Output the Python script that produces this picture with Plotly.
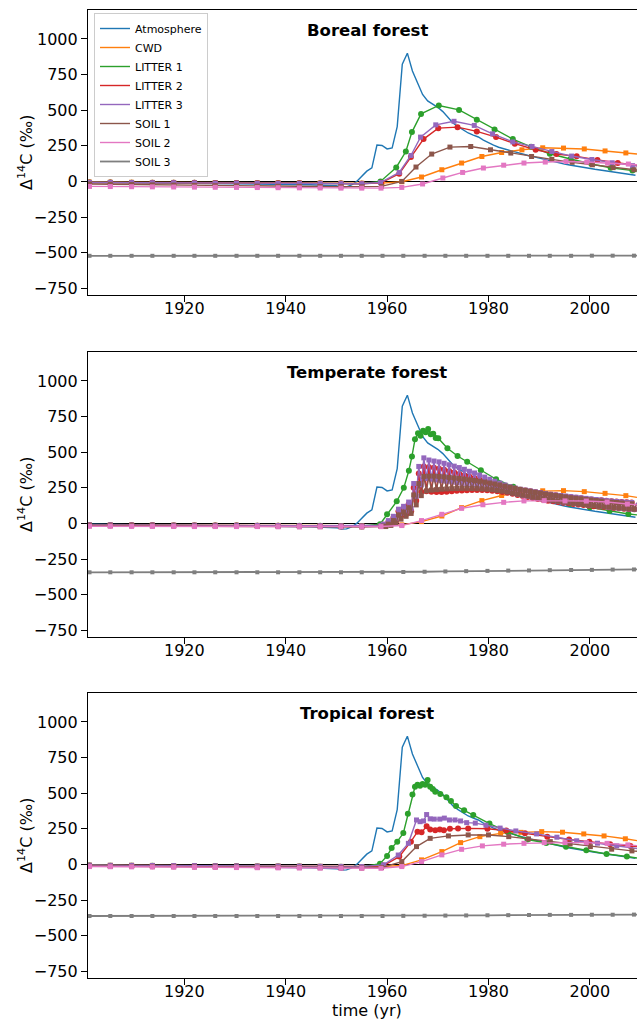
import plotly.graph_objects as go

# ---------------- data ----------------
# shared marker years in the flat pre-bomb period
F = [1901.3, 1905.4, 1909.6, 1913.7, 1917.9, 1922.0, 1926.1, 1930.3, 1934.4, 1938.5, 1942.7, 1946.8, 1950.9, 1955.0]
GRAY_X = F + [1959.1, 1963.2, 1967.4, 1971.5, 1975.6, 1979.8, 1983.9, 1988.0, 1992.1, 1996.3, 2000.4, 2004.5, 2008.7, 2009.3]

atm_x = [1901, 1910, 1920, 1930, 1940, 1945, 1950, 1951, 1952, 1953] + list(range(1954, 2010))
atm_y = [-5, -8, -12, -16, -20, -23, -30, -40, -38, -25,
         0, 35, 72, 95, 255, 252, 228, 235, 385, 822,
         900, 775, 690, 610, 565, 545, 520, 490, 450, 410,
         385, 360, 340, 325, 312, 290, 270, 255, 240, 230,
         215, 205, 195, 188, 180, 172, 163, 155, 147, 139,
         130, 122, 115, 108, 101, 96, 90, 85, 80, 74,
         68, 62, 57, 52, 47, 43]

# ---- Boreal forest ----
bor_cwd_x = F + [1959.0, 1962.9, 1966.8, 1970.8, 1974.7, 1978.7, 1982.6, 1986.6, 1990.7, 1994.8, 1998.9, 2003.0, 2007.1, 2009.3]
bor_cwd_y = [-5, -6, -6, -7, -7, -8, -8, -9, -9, -10, -10, -11, -12, -12,
             -12, -2, 31, 82, 129, 175, 203, 222, 236, 234, 228, 214, 200, 192]
bor_l1_x = F + [1958.7, 1961.8, 1963.7, 1964.9, 1966.7, 1970.2, 1974.2, 1977.7, 1981.2, 1984.8, 1988.4, 1992.1, 1996.2, 2000.3, 2004.1, 2008.4, 2009.3]
bor_l1_y = [-8, -8, -9, -9, -10, -10, -11, -11, -12, -12, -13, -14, -15, -16,
            0, 98, 210, 346, 474, 533, 502, 433, 365, 297, 243, 194, 157, 122, 96, 76, 72]
bor_l2_x = F + [1958.8, 1962.4, 1964.7, 1967.2, 1970.1, 1973.9, 1977.7, 1981.5, 1985.2, 1989.3, 1993.4, 1997.4, 2001.5, 2005.5, 2009.3]
bor_l2_y = [-8, -8, -9, -9, -10, -10, -11, -11, -12, -12, -13, -14, -15, -16,
            -10, 54, 171, 297, 374, 381, 351, 311, 265, 222, 192, 176, 150, 130, 112]
bor_l3_x = F + [1958.7, 1962.4, 1964.7, 1966.6, 1969.6, 1973.2, 1977.2, 1980.8, 1984.8, 1988.6, 1992.5, 1996.4, 2000.4, 2004.4, 2008.4, 2009.3]
bor_l3_y = [-7, -7, -8, -9, -9, -10, -11, -11, -12, -13, -13, -14, -15, -16,
            -8, 63, 182, 311, 397, 422, 393, 334, 277, 245, 210, 178, 154, 131, 111, 107]
bor_s1_x = F + [1958.9, 1962.9, 1965.7, 1968.8, 1972.4, 1976.5, 1980.4, 1984.4, 1988.5, 1992.5, 1996.5, 2000.5, 2004.6, 2008.7, 2009.3]
bor_s1_y = [-18, -20, -22, -24, -26, -28, -30, -31, -33, -34, -35, -36, -37, -38,
            -35, 0, 101, 192, 241, 245, 222, 199, 175, 155, 134, 117, 97, 82, 80]
bor_s2_x = F + [1958.8, 1962.9, 1967.0, 1971.0, 1974.9, 1979.0, 1983.0, 1987.0, 1991.2, 1995.3, 1999.4, 2003.5, 2007.6, 2009.3]
bor_s2_y = [-35, -36, -37, -38, -39, -40, -41, -42, -43, -44, -45, -46, -47, -47,
            -47, -42, -18, 24, 63, 94, 114, 129, 136, 140, 136, 129, 122, 117]
bor_s3_y = [-522] * 24 + [-521, -521, -521, -521]

# ---- Temperate forest ----
tem_cwd_x = F + [1958.9, 1962.9, 1966.8, 1970.8, 1974.7, 1978.7, 1982.6, 1986.6, 1990.7, 1994.8, 1998.9, 2003.0, 2007.1, 2009.3]
tem_cwd_y = [-10, -10, -11, -11, -12, -12, -13, -13, -14, -14, -15, -15, -16, -16,
             -16, -10, 13, 52, 111, 160, 196, 223, 229, 230, 223, 211, 195, 183]
tem_l1_x = F + [1958.6, 1960.0, 1961.9, 1963.3, 1964.3, 1964.9, 1965.5, 1966.1, 1966.6, 1967.1, 1967.6, 1968.1, 1968.6,
                1969.1, 1969.6, 1970.1, 1971.9, 1973.9, 1975.8, 1978.5, 1981.5, 1984.9, 1988.6, 1992.2, 1996.1, 2000.0,
                2003.9, 2007.6, 2009.3]
tem_l1_y = [-12, -12, -13, -13, -14, -14, -15, -15, -16, -16, -17, -17, -18, -18,
            -6, 65, 155, 250, 370, 470, 590, 632, 615, 650, 640, 662, 625,
            630, 600, 598, 527, 473, 433, 373, 310, 257, 205, 169, 136, 113,
            88, 66, 60]
tem_pre_x = F + [1958.8]
tem_l2_pre = [-12, -12, -13, -13, -14, -14, -15, -15, -16, -17, -18, -18, -19, -20, -18]
tem_l3_pre = [-10, -10, -11, -11, -12, -12, -13, -13, -14, -15, -16, -16, -17, -18, -15]
tem_s1_pre = [-15, -16, -16, -17, -18, -19, -19, -20, -21, -22, -23, -23, -24, -25, -22]
# yearly upper (peaks) 1959-2009 and lower (troughs) 1959-2008 of the seasonal cycle
tem_l2_up = [-10, 10, 40, 85, 105, 135, 250, 350, 400, 395, 390, 384, 376, 367, 357, 347, 337, 327, 317, 307,
             297, 287, 277, 267, 258, 250, 243, 237, 231, 225, 219, 213, 207, 202, 197, 192, 188, 184, 180, 176,
             172, 168, 165, 162, 159, 156, 153, 150, 148, 146, 144]
tem_l2_lo = [-15, -5, 15, 50, 65, 85, 160, 220, 225, 222, 220, 221, 223, 226, 229, 231, 233, 234, 235, 235,
             233, 230, 226, 221, 215, 208, 200, 192, 185, 178, 172, 166, 160, 155, 150, 145, 141, 137, 133, 129,
             125, 121, 118, 115, 112, 109, 106, 103, 101, 99]
tem_l3_up = [-5, 20, 50, 100, 120, 150, 280, 400, 460, 445, 438, 432, 422, 412, 402, 392, 380, 366, 354, 340,
             325, 310, 296, 283, 270, 258, 248, 240, 234, 228, 222, 216, 210, 205, 200, 196, 192, 188, 184, 180,
             176, 172, 168, 164, 160, 157, 154, 151, 149, 147, 145]
tem_l3_lo = [-12, 0, 25, 70, 85, 105, 190, 270, 315, 310, 305, 300, 296, 292, 287, 282, 277, 271, 264, 257,
             251, 245, 239, 232, 224, 215, 206, 197, 190, 184, 178, 172, 166, 160, 155, 150, 146, 142, 138, 134,
             130, 126, 122, 118, 114, 110, 107, 104, 101, 99]
tem_s1_up = [-18, -5, 20, 60, 80, 110, 200, 280, 330, 332, 332, 330, 327, 323, 319, 315, 311, 306, 301, 296,
             290, 284, 277, 270, 262, 254, 246, 239, 232, 225, 219, 213, 207, 201, 196, 191, 186, 181, 177, 173,
             169, 165, 161, 157, 153, 150, 147, 144, 141, 138, 136]
tem_s1_lo = [-22, -14, 0, 30, 50, 70, 130, 195, 228, 234, 237, 240, 242, 244, 245, 246, 246, 245, 244, 242,
             240, 236, 232, 226, 220, 212, 205, 198, 191, 184, 178, 172, 166, 160, 155, 150, 145, 141, 137, 133,
             129, 125, 121, 118, 115, 112, 109, 106, 103, 100]
tem_s2_x = F + [1958.8, 1962.9, 1966.8, 1970.8, 1974.7, 1978.9, 1983.0, 1987.0, 1991.0, 1995.1, 1999.3, 2003.4, 2007.4, 2009.3]
tem_s2_y = [-20, -20, -21, -21, -21, -22, -22, -22, -22, -23, -23, -23, -23, -23,
            -22, -15, 20, 64, 106, 131, 148, 158, 160, 158, 157, 150, 136, 130]
tem_s3_y = [-343] * 15 + [-341, -339, -337, -335, -333, -331, -330, -328, -327, -326, -324, -323, -323]

# ---- Tropical forest ----
tro_cwd_x = F + [1958.9, 1962.9, 1966.8, 1970.8, 1974.5, 1978.3, 1982.4, 1986.4, 1990.5, 1994.6, 1998.8, 2002.8, 2007.0, 2009.3]
tro_cwd_y = [-5, -6, -6, -7, -8, -8, -9, -10, -11, -11, -12, -13, -14, -15,
             -15, -8, 32, 90, 153, 195, 218, 225, 230, 226, 214, 200, 180, 167]
tro_l1_x = F + [1958.6, 1960.0, 1960.9, 1962.0, 1963.2, 1964.1, 1965.0, 1965.5, 1966.0, 1966.5, 1967.0, 1967.5, 1968.0,
                1968.5, 1969.0, 1969.5, 1970.5, 1971.7, 1972.6, 1973.6, 1975.2, 1977.0, 1980.2, 1983.8, 1987.7, 1991.4,
                1995.3, 1999.3, 2003.3, 2007.3, 2009.3]
tro_l1_y = [-8, -9, -10, -10, -11, -12, -13, -13, -14, -15, -15, -16, -17, -18,
            5, 60, 115, 160, 220, 356, 491, 545, 560, 552, 565, 560, 592,
            545, 530, 510, 495, 471, 445, 410, 380, 346, 287, 228, 175, 150,
            124, 100, 73, 56, 45]
tro_l2_x = F + [1959.3, 1962.4, 1964.7, 1966.0, 1966.8, 1967.8, 1968.5, 1969.5, 1970.4, 1971.2, 1972.4, 1974.0, 1976.0,
                1979.8, 1983.5, 1987.2, 1991.6, 1995.9, 1999.9, 2004.0, 2008.0, 2009.3]
tro_l2_y = [-10, -11, -11, -12, -13, -13, -14, -15, -16, -16, -17, -18, -19, -20,
            -8, 55, 160, 230, 225, 268, 245, 240, 245, 240, 250, 252, 253,
            250, 238, 218, 195, 175, 160, 142, 130, 126]
tro_l3_x = F + [1959.3, 1962.2, 1964.2, 1965.8, 1966.5, 1967.2, 1967.8, 1968.5, 1969.3, 1970.4, 1971.3, 1972.3, 1973.4,
                1974.5, 1975.7, 1977.4, 1979.5, 1982.3, 1985.4, 1989.5, 1993.5, 1997.4, 2001.5, 2005.3, 2009.3]
tro_l3_y = [-5, -6, -6, -7, -8, -8, -9, -10, -11, -11, -12, -13, -14, -15,
            -3, 66, 148, 312, 300, 305, 350, 320, 318, 318, 325, 312, 312,
            305, 293, 290, 275, 255, 235, 214, 191, 166, 149, 130, 112]
tro_s1_x = F + [1958.9, 1962.9, 1965.8, 1968.5, 1972.1, 1976.0, 1980.0, 1984.0, 1987.9, 1992.2, 1996.1, 2000.1, 2004.3, 2008.3, 2009.3]
tro_s1_y = [-12, -13, -14, -15, -16, -17, -18, -19, -20, -21, -22, -23, -24, -25,
            -22, 20, 125, 183, 200, 207, 207, 195, 179, 160, 144, 125, 107, 95, 92]
tro_s2_x = F + [1958.8, 1962.9, 1966.8, 1970.8, 1974.7, 1978.8, 1983.0, 1987.0, 1991.0, 1995.1, 1999.3, 2003.4, 2007.5, 2009.3]
tro_s2_y = [-15, -16, -17, -18, -19, -20, -21, -22, -23, -24, -25, -26, -27, -27,
            -27, -15, 20, 67, 106, 130, 142, 148, 153, 153, 153, 148, 137, 132]
tro_s3_y = [-362] * 15 + [-361, -360, -359, -358, -357, -356, -355, -354, -354, -353, -353, -352, -352]

titles = ["Boreal forest", "Temperate forest", "Tropical forest"]
names = ["Atmosphere", "CWD", "LITTER 1", "LITTER 2", "LITTER 3", "SOIL 1", "SOIL 2", "SOIL 3"]
colors = ["#1f77b4", "#ff7f0e", "#2ca02c", "#d62728", "#9467bd", "#8c564b", "#e377c2", "#7f7f7f"]
symbols = [None, "square", "circle", "circle", "square", "square", "square", "square"]


def seasonal(pre_x, pre_y, up, lo, start=1959):
    xs, ys = list(pre_x), list(pre_y)
    for i, u in enumerate(up):
        xs.append(start + i + 0.25)
        ys.append(u)
        if i < len(lo):
            xs.append(start + i + 0.75)
            ys.append(lo[i])
    return xs, ys


panels = [
    [(bor_cwd_x, bor_cwd_y), (bor_l1_x, bor_l1_y), (bor_l2_x, bor_l2_y), (bor_l3_x, bor_l3_y),
     (bor_s1_x, bor_s1_y), (bor_s2_x, bor_s2_y), (GRAY_X, bor_s3_y)],
    [(tem_cwd_x, tem_cwd_y), (tem_l1_x, tem_l1_y),
     seasonal(tem_pre_x, tem_l2_pre, tem_l2_up, tem_l2_lo),
     seasonal(tem_pre_x, tem_l3_pre, tem_l3_up, tem_l3_lo),
     seasonal(tem_pre_x, tem_s1_pre, tem_s1_up, tem_s1_lo),
     (tem_s2_x, tem_s2_y), (GRAY_X, tem_s3_y)],
    [(tro_cwd_x, tro_cwd_y), (tro_l1_x, tro_l1_y), (tro_l2_x, tro_l2_y), (tro_l3_x, tro_l3_y),
     (tro_s1_x, tro_s1_y), (tro_s2_x, tro_s2_y), (GRAY_X, tro_s3_y)],
]

# ---------------- figure ----------------
W, H = 637, 1021
ML, MR, MT, MB = 88, 0, 10, 43
PH = H - MT - MB
PW = W - ML - MR
panel_px = [(10, 295), (352, 637), (693, 978)]
XR = [1901, 2009.3]
YR = [-797, 1203]

fig = go.Figure()
for p, series in enumerate(panels):
    xa = "x" if p == 0 else f"x{p + 1}"
    ya = "y" if p == 0 else f"y{p + 1}"
    fig.add_trace(go.Scatter(x=atm_x, y=atm_y, mode="lines", name=names[0],
                             line=dict(color=colors[0], width=1.4),
                             showlegend=(p == 0), legendgroup=names[0], xaxis=xa, yaxis=ya))
    for k, (sx, sy) in enumerate(series, start=1):
        lw = 1.8 if k == 7 else 1.4
        fig.add_trace(go.Scatter(x=sx, y=sy, mode="lines", name=names[k],
                                 line=dict(color=colors[k], width=lw),
                                 showlegend=(p == 0), legendgroup=names[k], xaxis=xa, yaxis=ya))
        msize = 4 if k == 7 else (6 if symbols[k] == "circle" else 5)
        fig.add_trace(go.Scatter(x=sx[:-1], y=sy[:-1], mode="markers", name=names[k],
                                 marker=dict(color=colors[k], size=msize, symbol=symbols[k], line=dict(width=0)),
                                 showlegend=False, legendgroup=names[k], xaxis=xa, yaxis=ya))

layout = dict(
    width=W, height=H,
    margin=dict(l=ML, r=MR, t=MT, b=MB, pad=0),
    plot_bgcolor="white", paper_bgcolor="white",
    font=dict(family="DejaVu Sans", size=16, color="black"),
    showlegend=True,
    legend=dict(x=(94 - ML) / PW, y=(H - MB - 13) / PH, xanchor="left", yanchor="top",
                font=dict(size=11, family="DejaVu Sans"),
                bgcolor="rgba(255,255,255,0.85)", bordercolor="#cccccc", borderwidth=1,
                tracegroupgap=0, itemwidth=30),
)
annotations = []
for p in range(3):
    top, bot = panel_px[p]
    dom = [(H - MB - bot) / PH, (H - MB - top) / PH]
    xk = "xaxis" if p == 0 else f"xaxis{p + 1}"
    yk = "yaxis" if p == 0 else f"yaxis{p + 1}"
    ya = "y" if p == 0 else f"y{p + 1}"
    layout[xk] = dict(range=XR, tickvals=[1920, 1940, 1960, 1980, 2000], ticks="outside", ticklen=6,
                      tickwidth=1.2, tickcolor="black", showline=True, linecolor="black", linewidth=1.2,
                      mirror=True, showgrid=False, zeroline=False, anchor=ya,
                      tickfont=dict(size=16), ticklabelstandoff=-7)
    layout[yk] = dict(range=YR, domain=dom, tickvals=[-750, -500, -250, 0, 250, 500, 750, 1000],
                      ticks="outside", ticklen=6, tickwidth=1.2, tickcolor="black",
                      showline=True, linecolor="black", linewidth=1.2, mirror=False, showgrid=False,
                      zeroline=True, zerolinecolor="black", zerolinewidth=1.3,
                      anchor="x" if p == 0 else f"x{p + 1}", tickfont=dict(size=16))
    annotations.append(dict(text="<b>" + titles[p] + "</b>", xref="paper", x=(367 - ML) / PW,
                            yref="paper", y=(H - MB - (top + 20)) / PH, xanchor="center", yanchor="middle",
                            showarrow=False, font=dict(size=16.5)))
    annotations.append(dict(text="Δ<sup>14</sup>C (‰)", xref="paper", x=(25.5 - ML) / PW,
                            yref="paper", y=(dom[0] + dom[1]) / 2, xanchor="center", yanchor="middle",
                            textangle=-90, showarrow=False, font=dict(size=16)))
annotations.append(dict(text="time (yr)", xref="paper", x=(367 - ML) / PW, yref="paper",
                        y=(H - MB - 1010.7) / PH, xanchor="center", yanchor="middle",
                        showarrow=False, font=dict(size=16)))
layout["annotations"] = annotations
fig.update_layout(**layout)
fig.write_html("out.html")
